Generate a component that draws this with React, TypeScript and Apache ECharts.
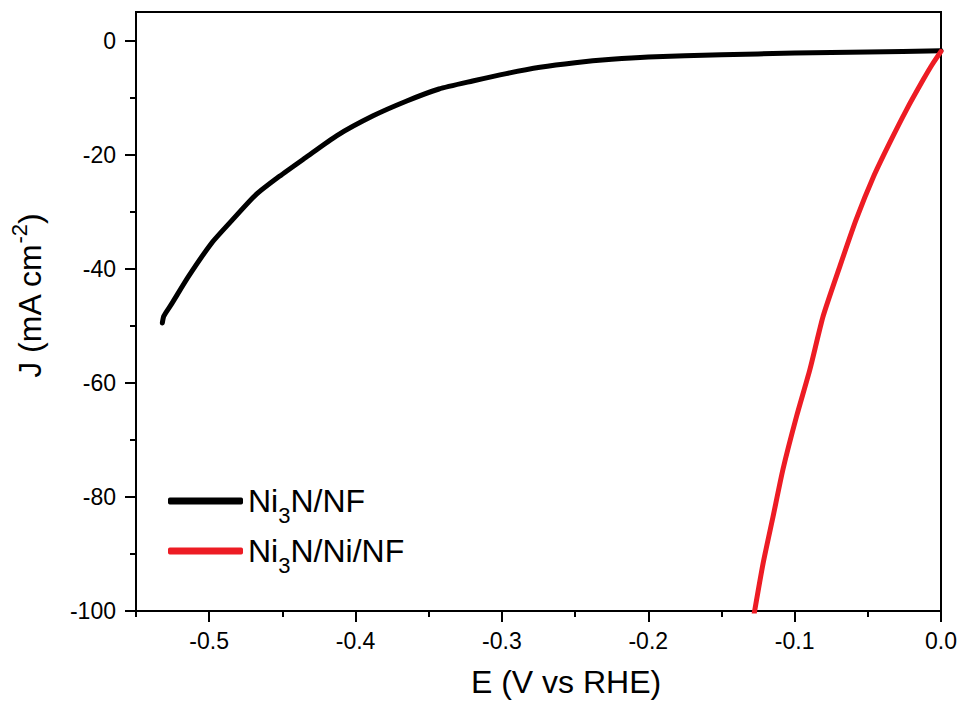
import React, { useEffect, useRef } from "react";
import * as echarts from "echarts";

const FONT = "'Liberation Sans', Arial, sans-serif";

const seriesNames = ["Ni3N/NF", "Ni3N/Ni/NF"];
const seriesColors = ["#000000", "#ED1C24"];

// E (V vs RHE), J (mA cm-2)
const ni3nNF: [number, number][] = [
  [-0.532, -49.5], [-0.531, -48.3], [-0.526, -46.3], [-0.514, -41.3], [-0.498, -35.4],
  [-0.484, -31.4], [-0.468, -27.0], [-0.452, -23.8], [-0.434, -20.5], [-0.413, -16.7],
  [-0.388, -13.2], [-0.365, -10.6], [-0.343, -8.5], [-0.32, -7.1], [-0.297, -5.8],
  [-0.274, -4.7], [-0.25, -3.9], [-0.225, -3.3], [-0.2, -2.9], [-0.15, -2.5],
  [-0.1, -2.2], [-0.05, -2.0], [0, -1.8],
];

const ni3nNiNF: [number, number][] = [
  [-0.128, -101], [-0.1215, -91.6], [-0.1147, -83.4], [-0.108, -75.2], [-0.0987, -65.9],
  [-0.0896, -57.7], [-0.0805, -48.3], [-0.069, -39.5], [-0.058, -31.4], [-0.046, -23.8],
  [-0.035, -17.9], [-0.0235, -12.1], [-0.012, -6.8], [-0.006, -4.2], [0, -1.9],
];

const xMajor = [-0.5, -0.4, -0.3, -0.2, -0.1, 0];
const xMinor = [-0.55, -0.45, -0.35, -0.25, -0.15, -0.05];
const yMajor = [-100, -80, -60, -40, -20, 0];
const yMinor = [-90, -70, -50, -30, -10];

const X_MIN = -0.55, X_MAX = 0;
const Y_MIN = -100, Y_MAX = 5;

export default function App() {
  const ref = useRef<HTMLDivElement>(null);
  useEffect(() => {
    if (!ref.current) return;
    const chart = echarts.init(ref.current, null, { renderer: "svg" });
    const axisLine = { show: true, onZero: false, lineStyle: { color: "#000", width: 2 } };
    const hiddenLine = { show: false, onZero: false };
    const labelStyle = { color: "#000", fontSize: 23, fontFamily: FONT };
    chart.setOption({
      animation: false,
      backgroundColor: "#fff",
      grid: {
        left: 136, right: 22, top: 12, bottom: 91,
        show: true, borderColor: "#000", borderWidth: 2, backgroundColor: "transparent",
      },
      xAxis: [
        {
          type: "value", min: X_MIN, max: X_MAX, position: "bottom",
          axisLine,
          axisTick: { show: true, customValues: xMajor, length: 11, lineStyle: { color: "#000", width: 2 } },
          axisLabel: { ...labelStyle, customValues: xMajor, margin: 18, formatter: (v: number) => v.toFixed(1) },
          splitLine: { show: false },
        },
        {
          type: "value", min: X_MIN, max: X_MAX, position: "bottom",
          axisLine: hiddenLine,
          axisTick: { show: true, customValues: xMinor, length: 6, lineStyle: { color: "#000", width: 2 } },
          axisLabel: { show: false },
          splitLine: { show: false },
        },
      ],
      yAxis: [
        {
          type: "value", min: Y_MIN, max: Y_MAX, position: "left",
          axisLine,
          axisTick: { show: true, customValues: yMajor, length: 11, lineStyle: { color: "#000", width: 2 } },
          axisLabel: { ...labelStyle, customValues: yMajor, margin: 20, formatter: (v: number) => String(Math.round(v)) },
          splitLine: { show: false },
        },
        {
          type: "value", min: Y_MIN, max: Y_MAX, position: "left",
          axisLine: hiddenLine,
          axisTick: { show: true, customValues: yMinor, length: 6, lineStyle: { color: "#000", width: 2 } },
          axisLabel: { show: false },
          splitLine: { show: false },
        },
      ],
      legend: {
        orient: "vertical",
        left: 168,
        top: 476,
        padding: 0,
        itemGap: 0,
        itemWidth: 75,
        itemHeight: 7,
        icon: "roundRect",
        data: seriesNames,
        formatter: (name: string) => name.replace("Ni3", "Ni{sub|3}"),
        textStyle: {
          color: "#000", fontSize: 32, fontFamily: FONT, lineHeight: 50,
          rich: {
            sub: { fontSize: 22, fontFamily: FONT, color: "#000", verticalAlign: "bottom", lineHeight: 22 },
          },
        },
      },
      graphic: [
        {
          type: "text", x: 566, y: 682,
          style: { text: "E (V vs RHE)", fontSize: 32, fontFamily: FONT, fill: "#000", align: "center", verticalAlign: "middle" },
        },
        {
          type: "text", x: 30, y: 296, rotation: Math.PI / 2,
          style: {
            text: "J (mA cm{sup|-2})", fontSize: 32, fontFamily: FONT, fill: "#000",
            align: "center", verticalAlign: "middle", lineHeight: 44,
            rich: { sup: { fontSize: 22, fontFamily: FONT, fill: "#000", verticalAlign: "top", lineHeight: 22 } },
          },
        },
      ],
      series: [
        {
          name: seriesNames[0], type: "line", xAxisIndex: 0, yAxisIndex: 0,
          data: ni3nNF, symbol: "none", smooth: 0.2,
          color: seriesColors[0],
          itemStyle: { color: seriesColors[0] },
          lineStyle: { color: seriesColors[0], width: 5, cap: "round", join: "round" },
        },
        {
          name: seriesNames[1], type: "line", xAxisIndex: 0, yAxisIndex: 0,
          data: ni3nNiNF, symbol: "none", smooth: 0.2,
          color: seriesColors[1],
          itemStyle: { color: seriesColors[1] },
          lineStyle: { color: seriesColors[1], width: 5, cap: "round", join: "round" },
        },
      ],
    });
    return () => chart.dispose();
  }, []);
  return <div ref={ref} style={{ width: 963, height: 702, position: "absolute", left: 0, top: 0 }} />;
}
